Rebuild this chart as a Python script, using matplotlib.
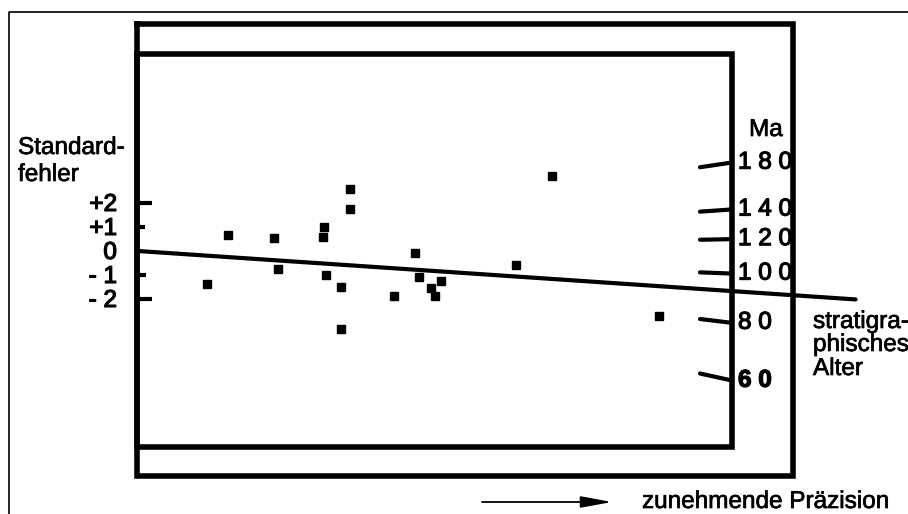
import matplotlib
matplotlib.use("Agg")
import matplotlib.pyplot as plt
import matplotlib.patheffects as pe

# ---------------- data ----------------
# precision (x, arbitrary units) and standardised estimate (z, standard errors)
precision = [2.86, 3.76, 5.67, 5.82, 7.76, 7.70, 7.82, 8.83, 8.83, 8.45,
             8.45, 10.67, 11.54, 11.71, 12.20, 12.39, 12.63, 15.75, 17.25, 21.71]
std_est = [-1.39, 0.67, 0.54, -0.74, 1.01, 0.60, -1.00, 2.57, 1.74, -1.49,
           -3.24, -1.86, -0.08, -1.07, -1.55, -1.86, -1.24, -0.58, 3.13, -2.71]

# central-age line (slope in z per precision unit), drawn through the origin
central_slope = -0.0675
central_xmax = 29.9

# age scale: ages and slopes of their radial rays
age_ticks = [180, 140, 120, 100, 80, 60]
age_labels = ["1 8 0", "1 4 0", "1 2 0", "1 0 0", "8 0", "6 0"]
age_slopes = [0.149, 0.070, 0.020, -0.038, -0.121, -0.218]

# standard-error scale on the left
se_ticks = [2, 1, 0, -1, -2]
se_labels = ["+2", "+1", "0", "- 1", "- 2"]

# ---------------- layout helpers ----------------
W, H = 908, 514
OX, OY, U = 138.0, 251.0, 24.0          # origin in pixels, pixels per unit


def px(x):
    return (x - OX) / U


def py(y):
    return (OY - y) / U


FONT = "Liberation Sans"
FS = 17.5
PE_WORD = [pe.withStroke(linewidth=0.5, foreground="black")]
PE_NUM = [pe.withStroke(linewidth=0.9, foreground="black")]

fig = plt.figure(figsize=(W / 100, H / 100), dpi=100)
ax = fig.add_axes([0, 0, 1, 1])
ax.set_xlim(px(0), px(W))
ax.set_ylim(py(H), py(0))
ax.axis("off")

# thin outer border
ax.plot([px(9), px(9), px(W + 5)], [py(H + 5), py(11.7), py(11.7)],
        color="black", lw=1.2, solid_capstyle="butt", zorder=5)

# thick frames
lwf = 4.0


def rect(x0, y0, x1, y1):
    ax.plot([px(x0), px(x1), px(x1), px(x0), px(x0)],
            [py(y0), py(y0), py(y1), py(y1), py(y0)],
            color="black", lw=lwf, solid_joinstyle="miter", zorder=6)


rect(137, 24.5, 793, 476)
rect(137, 54.5, 732, 447)

# left standard-error ticks
se_len = {2: 15, 1: 8, 0: 0, -1: 9, -2: 15}
for t, lab in zip(se_ticks, se_labels):
    L = se_len[t]
    if L:
        ax.plot([px(137), px(137 + L)], [t, t], color="black", lw=3,
                solid_capstyle="butt", zorder=6)
    ax.text(px(117), t - 0.08, lab, ha="right", va="center",
            fontsize=FS, family=FONT, zorder=7, path_effects=PE_NUM)

ax.text(px(18), py(148), "Standard-", ha="left", va="center",
        fontsize=FS, family=FONT, path_effects=PE_WORD)
ax.text(px(18), py(175), "fehler", ha="left", va="center",
        fontsize=FS, family=FONT, path_effects=PE_WORD)

# central line
ax.plot([0, central_xmax], [0, central_slope * central_xmax],
        color="black", lw=3.0, solid_capstyle="round", zorder=4)

# data points
ax.plot(precision, std_est, ls="none", marker="s", ms=6.0,
        color="black", zorder=5)

# age ticks (along their rays)
x_in, x_out = px(700), px(731)
for a, lab, s in zip(age_ticks, age_labels, age_slopes):
    ax.plot([x_in, x_out], [s * x_in, s * x_out], color="black", lw=3,
            solid_capstyle="round", zorder=6)
    ax.text(px(738), s * x_out, lab, ha="left", va="center",
            fontsize=FS, family=FONT, zorder=3,
            fontweight="bold" if a == 60 else "normal",
            path_effects=PE_NUM)

ax.text(px(749), py(130), "Ma", ha="left", va="center",
        fontsize=FS, family=FONT, path_effects=PE_WORD)

for txt, yy in [("stratigra-", 322), ("phisches", 345), ("Alter", 369)]:
    ax.text(px(813), py(yy), txt, ha="left", va="center",
            fontsize=FS, family=FONT, path_effects=PE_WORD)

# precision arrow
ax.annotate("", xy=(px(612), py(502)), xytext=(px(482), py(502)),
            arrowprops=dict(arrowstyle="-|>,head_length=1.9,head_width=0.35",
                            color="black", lw=1.3, shrinkA=0, shrinkB=0))
ax.text(px(642), py(502), "zunehmende Präzision", ha="left", va="center",
        fontsize=FS, family=FONT, path_effects=PE_WORD)

fig.savefig("out.png", dpi=100)
